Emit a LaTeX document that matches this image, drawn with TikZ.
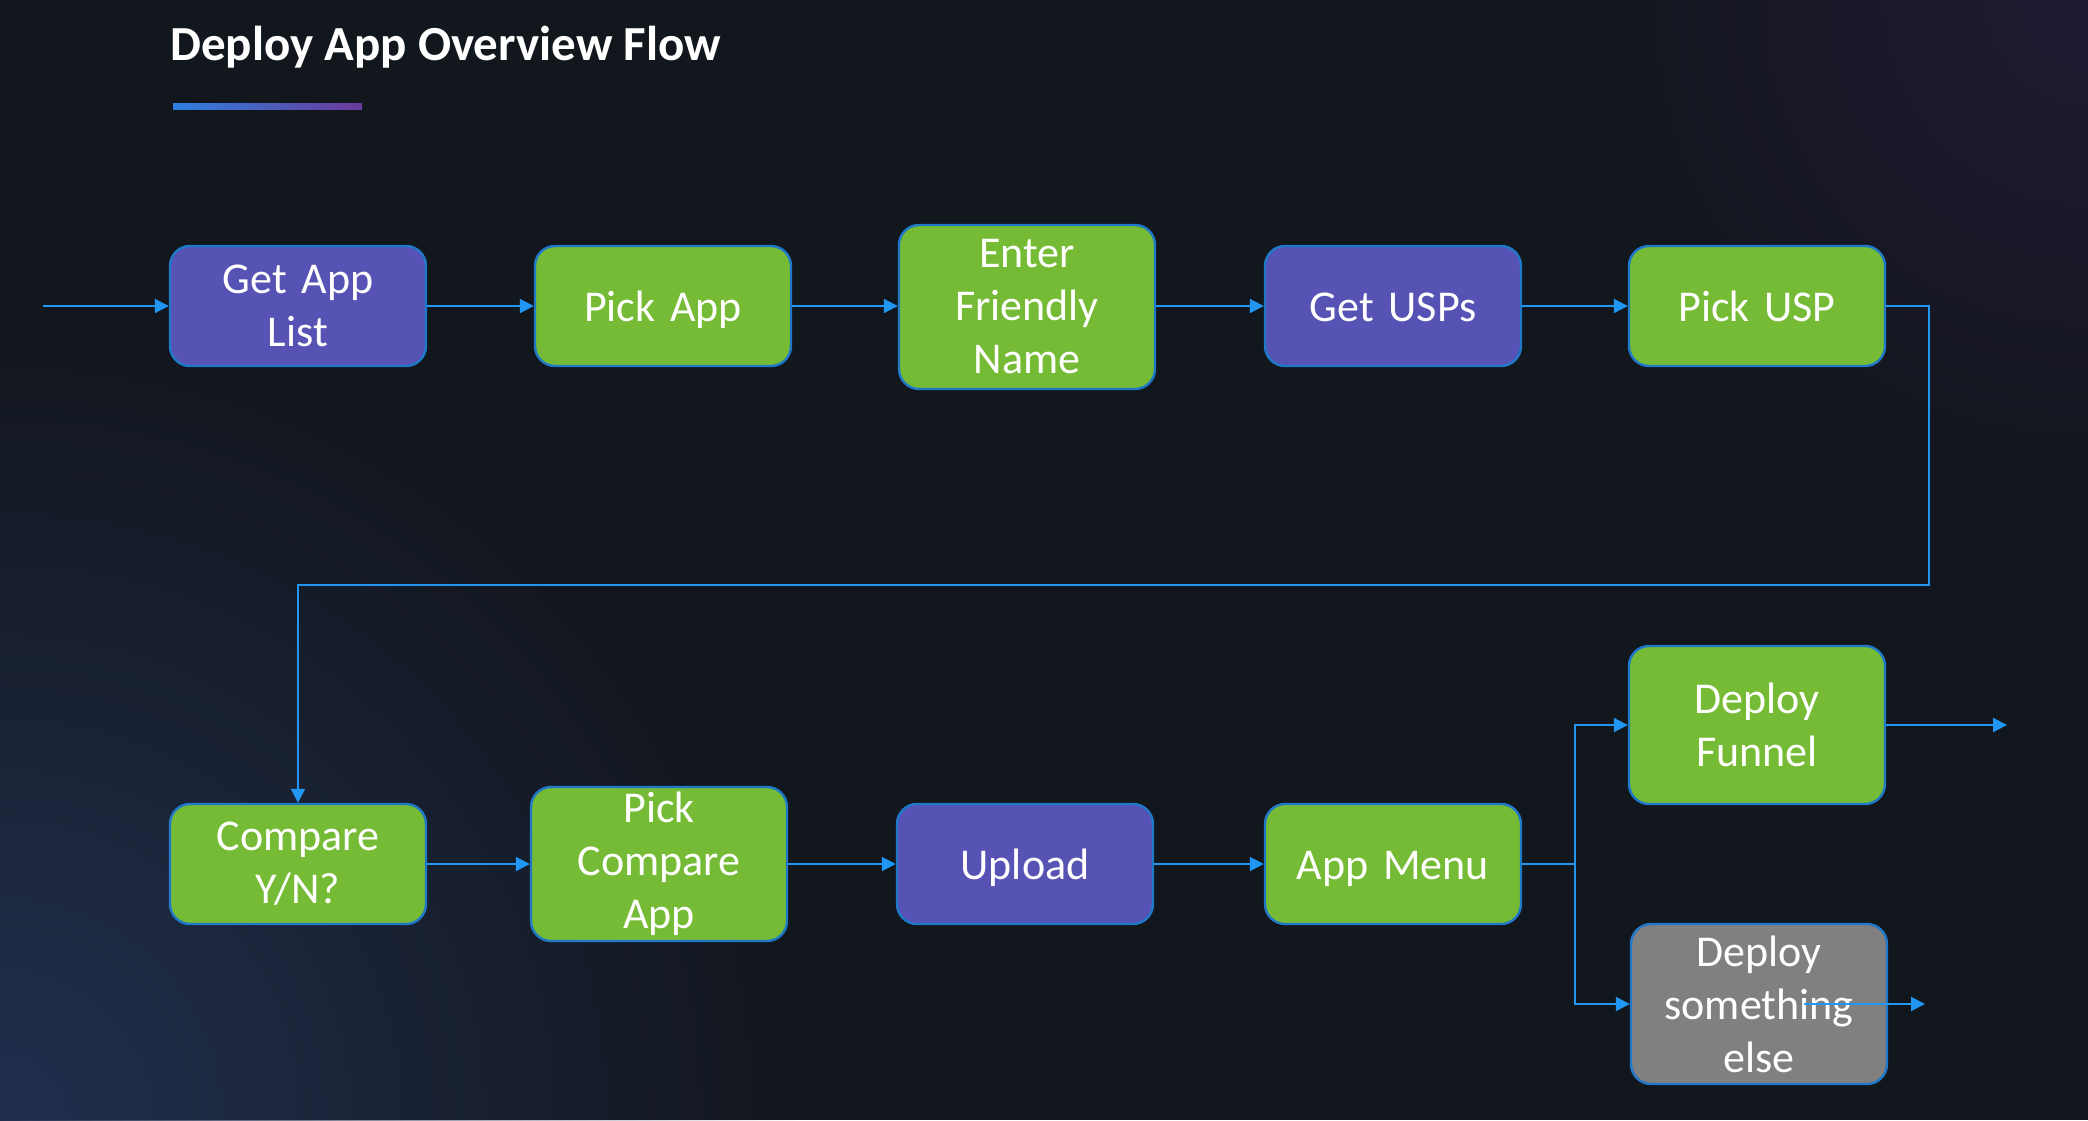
\documentclass[tikz,border=0pt]{standalone}
\usepackage{fontspec}
\setmainfont{Carlito}
\usetikzlibrary{arrows.meta,calc,shadings,fadings}
\definecolor{bgBase}{HTML}{12161D}
\definecolor{glowBL}{HTML}{22304F}
\definecolor{glowTR}{HTML}{211B34}
\definecolor{purplebox}{HTML}{5753B4}
\definecolor{greenbox}{HTML}{76BB35}
\definecolor{graybox}{HTML}{808080}
\definecolor{edgeblue}{HTML}{1F78C8}
\definecolor{arrowblue}{HTML}{2196F3}
\definecolor{lineA}{HTML}{2E80E0}
\definecolor{lineB}{HTML}{6A3A9A}
\tikzfading[name=radfade, inner color=transparent!0, outer color=transparent!100]
\begin{document}
\begin{tikzpicture}[x=0.5pt,y=-0.5pt,
  box/.style={draw=edgeblue, line width=1.2pt, rounded corners=10pt,
    minimum width=128pt, minimum height=60pt, text width=120pt, align=center,
    text=white, font=\fontsize{22}{26.5}\selectfont, inner sep=0pt},
  oneline/.style={text height=20pt, text depth=4.2pt},
  pbox/.style={box, fill=purplebox},
  gbox/.style={box, fill=greenbox},
  xbox/.style={box, fill=graybox},
  flow/.style={draw=arrowblue, line width=1pt, -{Triangle[length=7pt,width=7pt]}},
  plainline/.style={draw=arrowblue, line width=1pt}]
\useasboundingbox (0,0) rectangle (2088,1120);
\fill[bgBase] (0,0) rectangle (2088,1120);
\begin{scope}
\clip (0,0) rectangle (2088,1120);
\fill[glowBL, path fading=radfade] (0,1120) circle (800);
\fill[glowTR, path fading=radfade] (2088,0) circle (500);
\end{scope}
% title
\node[anchor=west, inner sep=0pt, text=white, font=\fontsize{24.5}{29}\selectfont\bfseries] (title) at (170,47) {Deploy App Overview Flow};
\shade[left color=lineA, right color=lineB] (173,103) rectangle (362,109);
% row 1
\node[pbox] (getapp) at (298,306) {Get App\\List};
\node[gbox, oneline] (pickapp) at (663,306) {Pick App};
\node[gbox, minimum height=82pt] (friendly) at (1027,307) {Enter\\Friendly\\Name};
\node[pbox, oneline] (getusp) at (1393,306) {Get USPs};
\node[gbox, oneline] (pickusp) at (1757,306) {Pick USP};
% row 2
\node[gbox] (compare) at (298,864) {Compare\\Y/N?};
\node[gbox, minimum height=77pt] (pickcmp) at (659,864) {Pick\\Compare\\App};
\node[pbox, oneline] (upload) at (1025,864) {Upload};
\node[gbox, oneline] (appmenu) at (1393,864) {App Menu};
\node[gbox, minimum height=79pt] (funnel) at (1757,725) {Deploy\\Funnel};
\node[xbox, minimum height=80pt] (else) at (1759,1004) {Deploy\\something\\else};
% coordinates
\coordinate (start) at (43,306);
\coordinate (c1) at (1929,306);
\coordinate (c2) at (1929,585);
\coordinate (c3) at (298,585);
\coordinate (split) at (1575,864);
\coordinate (fout) at (2007,725);
\coordinate (ein) at (1804,1004);
\coordinate (eout) at (1925,1004);
% connectors
\draw[flow] (start) -- (getapp.west);
\draw[flow] (getapp) -- (pickapp);
\draw[flow] (pickapp) -- (friendly.west |- pickapp);
\draw[flow] (friendly.east |- getusp) -- (getusp);
\draw[flow] (getusp) -- (pickusp);
\draw[flow] (pickusp.east) -- (c1) -- (c2) -- (c3) -- (compare.north);
\draw[flow] (compare) -- (pickcmp.west |- compare);
\draw[flow] (pickcmp.east |- upload) -- (upload);
\draw[flow] (upload) -- (appmenu);
\draw[plainline] (appmenu.east) -- (split);
\draw[flow] (split) |- (funnel.west);
\draw[flow] (split) |- (else.west);
\draw[flow] (funnel.east) -- (fout);
\draw[flow] (ein) -- (eout);
\end{tikzpicture}
\end{document}
